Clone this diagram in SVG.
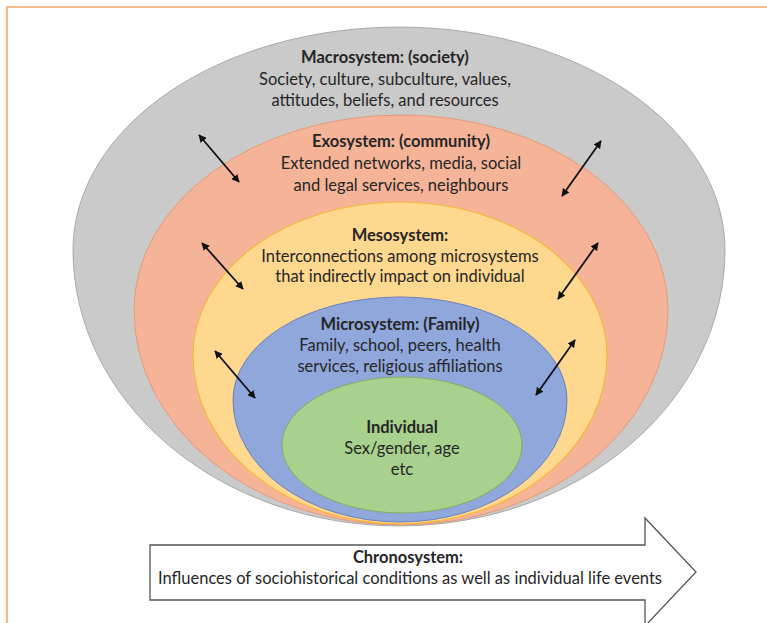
<svg xmlns="http://www.w3.org/2000/svg" width="767" height="623" viewBox="0 0 767 623">
<style>
.t{font-family:Lato,"Liberation Sans",sans-serif;font-size:16.5px;fill:#262626;text-anchor:middle}
.b{font-weight:bold}
.arr{stroke:#111;stroke-width:1.8;fill:none;marker-start:url(#ah);marker-end:url(#ah)}
</style>
<defs>
<marker id="ah" viewBox="0 0 10 10" refX="9" refY="5" markerWidth="8" markerHeight="8" orient="auto-start-reverse" markerUnits="userSpaceOnUse">
<path d="M0,0 L10,5 L0,10 Z" fill="#111"/>
</marker>
</defs>
<rect width="767" height="623" fill="#fff"/>
<path d="M7,623 V7 H767" fill="none" stroke="#f3b98f" stroke-width="2.2"/>
<g id="macrosystem">
<path d="M73,250 A326,223 0 0 1 725,250 A326,276 0 0 1 73,250 Z" fill="#cacaca" stroke="#a9a9a9" stroke-width="1"/>
<text class="t b" x="385" y="63">Macrosystem: (society)</text>
<text class="t" x="385" y="85">Society, culture, subculture, values,</text>
<text class="t" x="385" y="106">attitudes, beliefs, and resources</text>
</g>
<g id="exosystem">
<path d="M134,310 A267,195 0 0 1 668,310 A267,215 0 0 1 134,310 Z" fill="#f5b498" stroke="#e49a7a" stroke-width="1"/>
<text class="t b" x="401" y="147">Exosystem: (community)</text>
<text class="t" x="401" y="169">Extended networks, media, social</text>
<text class="t" x="401" y="191">and legal services, neighbours</text>
</g>
<g id="mesosystem">
<path d="M193,355 A207,153 0 0 1 607,355 A207,169 0 0 1 193,355 Z" fill="#fed88f" stroke="#f5b73b" stroke-width="1.2"/>
<text class="t b" x="400" y="241">Mesosystem:</text>
<text class="t" x="400" y="262">Interconnections among microsystems</text>
<text class="t" x="400" y="282">that indirectly impact on individual</text>
</g>
<g id="microsystem">
<path d="M233,400 A167,103 0 0 1 567,400 A167,122 0 0 1 233,400 Z" fill="#90a7dc" stroke="#6a7fbd" stroke-width="1"/>
<text class="t b" x="400" y="330">Microsystem: (Family)</text>
<text class="t" x="400" y="351">Family, school, peers, health</text>
<text class="t" x="400" y="372">services, religious affiliations</text>
</g>
<g id="individual">
<ellipse cx="402" cy="445" rx="120" ry="68" fill="#a9d18e" stroke="#7fae5f" stroke-width="1"/>
<text class="t b" x="402" y="433">Individual</text>
<text class="t" x="402" y="454">Sex/gender, age</text>
<text class="t" x="402" y="475">etc</text>
</g>
<g id="connectors">
<line class="arr" x1="199" y1="135" x2="239" y2="182"/>
<line class="arr" x1="202" y1="243" x2="243" y2="289"/>
<line class="arr" x1="215" y1="351" x2="255" y2="398"/>
<line class="arr" x1="601" y1="141" x2="562" y2="196"/>
<line class="arr" x1="598" y1="243" x2="558" y2="299"/>
<line class="arr" x1="575" y1="340" x2="536" y2="395"/>
</g>
<g id="chronosystem">
<path d="M150,545 H645 V518 L696,572 L645,626 V600 H150 Z" fill="#fff" stroke="#555" stroke-width="1.3"/>
<text class="t b" x="408" y="563">Chronosystem:</text>
<text class="t" x="410" y="584">Influences of sociohistorical conditions as well as individual life events</text>
</g>
</svg>
